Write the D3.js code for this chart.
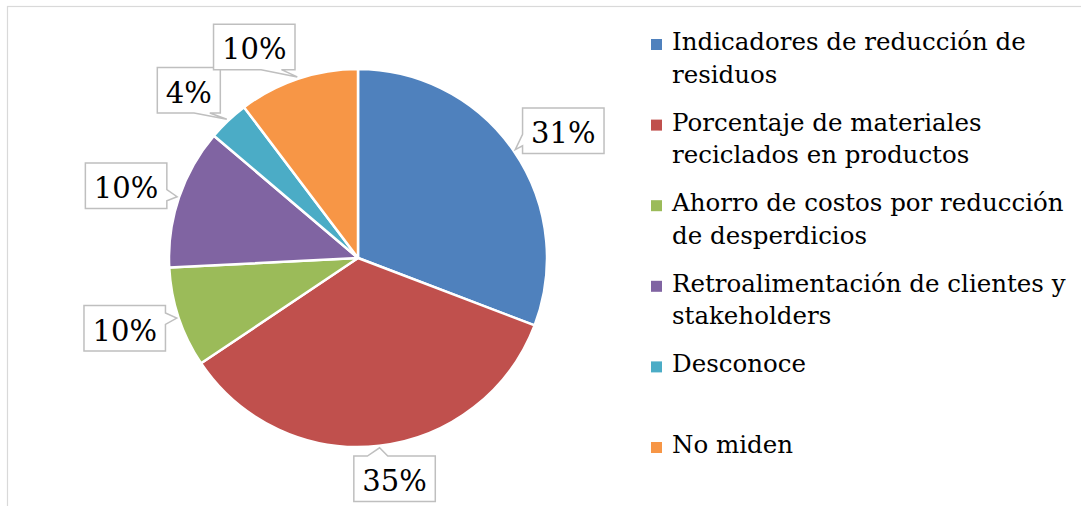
<!DOCTYPE html>
<html><head><meta charset="utf-8">
<script src="https://cdn.jsdelivr.net/npm/d3@7"></script>
<style>html,body{margin:0;padding:0;background:#fff;overflow:hidden}svg{display:block}</style>
</head><body>
<svg id="chart" width="1081" height="506"></svg>
<script>
// ---- data ----
const categories = [
  "Indicadores de reducción de residuos",
  "Porcentaje de materiales reciclados en productos",
  "Ahorro de costos por reducción de desperdicios",
  "Retroalimentación de clientes y stakeholders",
  "Desconoce",
  "No miden"
];
const values = [30.8, 34.8, 8.6, 12.0, 3.5, 10.3];
const labelTexts = ["31%", "35%", "10%", "10%", "4%", "10%"];
const legendLines = [
  ["Indicadores de reducción de", "residuos"],
  ["Porcentaje de materiales", "reciclados en productos"],
  ["Ahorro de costos por reducción", "de desperdicios"],
  ["Retroalimentación de clientes y", "stakeholders"],
  ["Desconoce"],
  ["No miden"]
];
const colors = ["#4F81BD", "#C0504D", "#9BBB59", "#8064A2", "#4BACC6", "#F79646"];

// ---- layout ----
const W = 1081, H = 506;
const cx = 358, cy = 258, R = 189;
// box centre offset from callout tip (label nudges)
const labelOffsets = [[48, -19], [15, 31], [-52, 10], [-51, -11], [-38, -29], [-43, -30]];
const fontFamily = "'DejaVu Serif', 'Liberation Serif', serif";

const svg = d3.select("#chart");
svg.append("rect").attr("x", 7.5).attr("y", 6.5).attr("width", 1200).attr("height", 600)
  .attr("fill", "#fff").attr("stroke", "#d9d9d9").attr("stroke-width", 1.2);

const color = d3.scaleOrdinal().domain(categories).range(colors);
const pie = d3.pie().sort(null).value(d => d.v).startAngle(0).endAngle(2 * Math.PI);
const data = categories.map((c, i) => ({c, v: values[i], label: labelTexts[i], i}));
const arcs = pie(data);
const arc = d3.arc().innerRadius(0).outerRadius(R);

const g = svg.append("g").attr("transform", `translate(${cx},${cy})`);
g.selectAll("path.slice").data(arcs).join("path")
  .attr("class", "slice")
  .attr("d", arc)
  .attr("fill", d => color(d.data.c))
  .attr("stroke", "#fff").attr("stroke-width", 2.5).attr("stroke-linejoin", "round");

// callout shape (wedgeRectCallout)
function callout(l, t, w, h, tipX, tipY) {
  const r = l + w, b = t + h, hc = l + w / 2, vc = t + h / 2;
  const dxPos = tipX - hc, dyPos = tipY - vc;
  const dq = dxPos * h / w, ady = Math.abs(dyPos), adq = Math.abs(dq), dz = ady - adq;
  const xg1 = dxPos > 0 ? 7 : 2, xg2 = dxPos > 0 ? 10 : 5;
  const yg1 = dyPos > 0 ? 7 : 2, yg2 = dyPos > 0 ? 10 : 5;
  const x1 = l + w * xg1 / 12, x2 = l + w * xg2 / 12;
  const y1 = t + h * yg1 / 12, y2 = t + h * yg2 / 12;
  const xPos = tipX, yPos = tipY;
  const t1 = dxPos > 0 ? l : xPos, xl = dz > 0 ? l : t1;
  const t2 = dyPos > 0 ? x1 : xPos, xt = dz > 0 ? t2 : x1;
  const t3 = dxPos > 0 ? xPos : r, xr = dz > 0 ? r : t3;
  const t4 = dyPos > 0 ? xPos : x1, xb = dz > 0 ? t4 : x1;
  const t5 = dxPos > 0 ? y1 : yPos, yl = dz > 0 ? y1 : t5;
  const t6 = dyPos > 0 ? t : yPos, yt = dz > 0 ? t6 : t;
  const t7 = dyPos > 0 ? yPos : b, yb = dz > 0 ? t7 : b;
  const t8 = dxPos > 0 ? yPos : y1, yr = dz > 0 ? y1 : t8;
  const p = d3.path();
  p.moveTo(l, t); p.lineTo(x1, t); p.lineTo(xt, yt); p.lineTo(x2, t); p.lineTo(r, t);
  p.lineTo(r, y1); p.lineTo(xr, yr); p.lineTo(r, y2); p.lineTo(r, b);
  p.lineTo(x2, b); p.lineTo(xb, yb); p.lineTo(x1, b); p.lineTo(l, b);
  p.lineTo(l, y2); p.lineTo(xl, yl); p.lineTo(l, y1); p.closePath();
  return p.toString();
}

const labelFont = 29;
const lg = svg.append("g");
arcs.forEach((a, i) => {
  const mid = (a.startAngle + a.endAngle) / 2;
  const tipX = cx + (R + 2) * Math.sin(mid), tipY = cy - (R + 2) * Math.cos(mid);
  const bx = tipX + labelOffsets[i][0], by = tipY + labelOffsets[i][1];
  const tmp = lg.append("text").attr("font-family", fontFamily).attr("font-size", labelFont).text(a.data.label);
  const tw = tmp.node().getComputedTextLength();
  tmp.remove();
  const w = tw + 17, h = 45.5;
  const l = bx - w / 2, t = by - h / 2;
  lg.append("path").attr("d", callout(l, t, w, h, tipX, tipY))
    .attr("fill", "#fff").attr("stroke", "#bfbfbf").attr("stroke-width", 1.5);
  lg.append("text").attr("x", bx).attr("y", by + 12.5).attr("text-anchor", "middle")
    .attr("font-family", fontFamily).attr("font-size", labelFont).attr("fill", "#000")
    .text(a.data.label);
});

// legend
const legX = 651, textX = 672, legFont = 24.5;
const itemBaselines = d3.range(categories.length).map(i => 50 + i * 80.6);
const leg = svg.append("g");
categories.forEach((c, i) => {
  const yb = itemBaselines[i];
  leg.append("rect").attr("x", legX).attr("y", yb - 11).attr("width", 11).attr("height", 11)
    .attr("fill", color(c));
  legendLines[i].forEach((ln, j) => {
    leg.append("text").attr("x", textX).attr("y", yb + j * 32.5)
      .attr("font-family", fontFamily).attr("font-size", legFont).attr("fill", "#000").text(ln);
  });
});
</script>
</body></html>
